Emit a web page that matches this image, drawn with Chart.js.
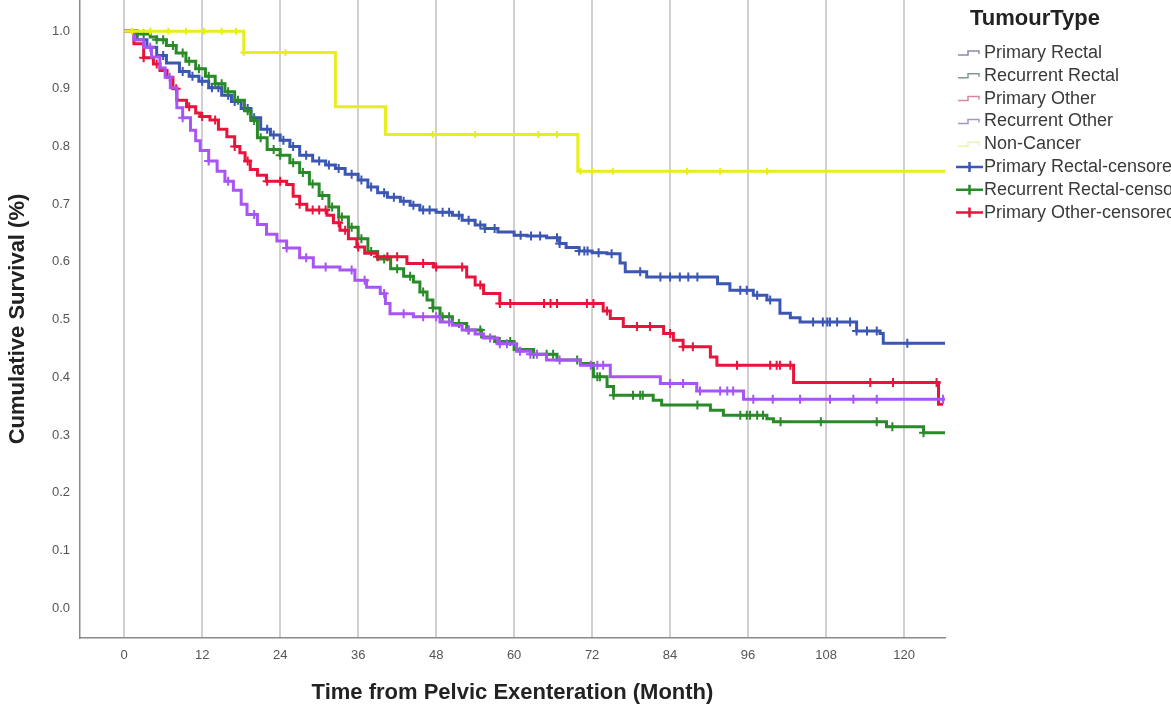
<!DOCTYPE html>
<html>
<head>
<meta charset="utf-8">
<script src="https://cdn.jsdelivr.net/npm/chart.js@4.4.1/dist/chart.umd.min.js"></script>
<style>
html, body { margin: 0; padding: 0; background: #fff; }
</style>
</head>
<body>
<canvas id="kmChart" width="1171" height="710"></canvas>
<script>
// Kaplan-Meier curves: event times (months) and survival after each step
const primaryRectalT = [0, 2, 3.5, 5, 6.5, 8.5, 10, 11.5, 13, 15, 16.5, 18, 19.5, 21, 22.5, 24, 25.5, 27, 29, 31, 32.5, 34, 36, 37.5, 39, 40.5, 42.5, 44, 45.5, 48, 50.5, 52, 54, 55.5, 57.5, 60, 62, 65, 67, 68, 70, 72, 74.3, 76.3, 77.1, 80.4, 91.3, 93.2, 96.8, 98.9, 100.9, 102.5, 104, 112.7, 116.3, 116.8, 126.3];
const primaryRectalS = [1.0, 0.985, 0.972, 0.958, 0.945, 0.93, 0.922, 0.913, 0.902, 0.889, 0.878, 0.866, 0.85, 0.83, 0.82, 0.811, 0.8, 0.785, 0.775, 0.768, 0.762, 0.752, 0.742, 0.73, 0.72, 0.712, 0.705, 0.698, 0.69, 0.686, 0.681, 0.672, 0.664, 0.658, 0.652, 0.646, 0.645, 0.642, 0.632, 0.625, 0.619, 0.616, 0.614, 0.598, 0.583, 0.574, 0.562, 0.551, 0.542, 0.534, 0.511, 0.503, 0.496, 0.48, 0.476, 0.459, 0.459];

const recurrentRectalT = [0, 2, 4, 5, 6.5, 8, 9.5, 11, 12.5, 14, 15.5, 17, 18.5, 19.5, 20.5, 22, 24, 25.5, 27, 28.5, 30, 31.5, 33, 34.5, 36, 37.5, 39, 41, 43, 44.5, 45.5, 46.6, 47.5, 48.6, 50.5, 52.7, 55, 57, 60, 63, 66.6, 70.2, 72.2, 74.3, 75.3, 81.4, 82.7, 90.2, 92.2, 98.9, 99.9, 117.3, 123, 126.3];
const recurrentRectalS = [1.0, 0.995, 0.99, 0.985, 0.975, 0.962, 0.948, 0.935, 0.922, 0.909, 0.895, 0.88, 0.862, 0.845, 0.815, 0.795, 0.785, 0.772, 0.755, 0.735, 0.715, 0.695, 0.678, 0.66, 0.64, 0.618, 0.605, 0.588, 0.575, 0.565, 0.548, 0.534, 0.52, 0.505, 0.493, 0.482, 0.47, 0.462, 0.448, 0.44, 0.43, 0.424, 0.401, 0.384, 0.369, 0.36, 0.352, 0.343, 0.334, 0.328, 0.323, 0.314, 0.304, 0.304];

const primaryOtherT = [0, 1.5, 3, 4.5, 5.5, 6.6, 7.5, 8.1, 9.6, 11, 11.7, 13.2, 14.5, 15.8, 17, 17.8, 18.6, 19.4, 20.5, 21.9, 25, 26, 27, 28.1, 31.2, 32.2, 33.2, 34.5, 35.8, 37, 38.9, 43.5, 47.6, 52.7, 54, 55.3, 57.8, 73.7, 74.8, 76.8, 83, 84.5, 86, 90.2, 91.2, 103, 125.3, 126];
const primaryOtherS = [1.0, 0.978, 0.954, 0.943, 0.932, 0.92, 0.9, 0.88, 0.869, 0.858, 0.852, 0.846, 0.83, 0.817, 0.8, 0.789, 0.775, 0.76, 0.75, 0.74, 0.734, 0.714, 0.7, 0.69, 0.681, 0.668, 0.655, 0.64, 0.626, 0.615, 0.609, 0.597, 0.591, 0.574, 0.56, 0.545, 0.528, 0.515, 0.502, 0.488, 0.476, 0.464, 0.453, 0.435, 0.421, 0.391, 0.353, 0.353];

const recurrentOtherT = [0, 1.5, 3, 4.2, 5.5, 6.3, 7.1, 8.1, 9, 10.2, 11, 11.7, 13, 14.3, 15.5, 16.8, 18, 18.9, 20.5, 21.9, 23.5, 25, 27, 29.1, 33.2, 35.5, 37.3, 39.4, 40.2, 40.9, 44.5, 48.6, 50.5, 52, 54, 55.3, 57.5, 60.4, 62.5, 65, 70.2, 74.8, 82.5, 88.1, 95.3, 126.3];
const recurrentOtherS = [1.0, 0.985, 0.972, 0.955, 0.936, 0.92, 0.902, 0.867, 0.85, 0.828, 0.81, 0.793, 0.775, 0.757, 0.74, 0.724, 0.7, 0.682, 0.665, 0.648, 0.636, 0.624, 0.607, 0.591, 0.586, 0.568, 0.556, 0.545, 0.528, 0.51, 0.505, 0.496, 0.49, 0.482, 0.475, 0.468, 0.458, 0.445, 0.44, 0.43, 0.421, 0.401, 0.389, 0.376, 0.362, 0.362];

const nonCancerT = [0, 18.4, 32.5, 40.2, 69.8, 126.3];
const nonCancerS = [1.0, 0.963, 0.869, 0.821, 0.757, 0.757];

// censored follow-up times (months)
const primaryRectalCens = [6, 9, 10.5, 12, 13.5, 14.5, 16, 17, 19, 20, 22, 23, 24.5, 26, 28, 30, 31.5, 33, 35, 36.5, 38, 40, 41.5, 43, 44.5, 46, 47, 49, 50, 51.5, 53, 54.8, 55.5, 57, 61, 62.6, 64, 66.6, 67, 70, 70.8, 71.3, 73, 75, 79.4, 82.5, 84, 85.5, 86.8, 88.2, 94.8, 95.8, 97.4, 99.4, 106, 107.5, 108.2, 108.6, 109.7, 111.7, 112.7, 114.3, 115.8, 120.5];
const recurrentRectalCens = [2, 3, 5, 6, 7.5, 9, 10, 11.5, 13, 14, 15, 16, 17.5, 19, 20, 21, 23, 24, 26, 27.5, 29, 30.5, 32, 33.5, 35, 36.5, 38, 40, 42, 44, 46, 47.5, 49, 50, 51.5, 53, 54.8, 57.8, 59.4, 63, 65, 66, 69.7, 72.8, 73.2, 75.3, 78.3, 79.4, 79.8, 88.2, 94.8, 95.8, 96.3, 97.4, 98.3, 101, 107.2, 115.8, 118.2, 123];
const primaryOtherCens = [3, 5, 8, 10, 12, 14, 17, 19, 22, 24, 27, 29, 30, 31, 33, 34, 36, 39, 40.5, 42, 46, 48, 52, 54.8, 57.8, 59.4, 64.6, 65.6, 66.6, 71.2, 72.2, 74.3, 78.9, 80.9, 84, 86, 87.5, 94.3, 99.4, 100.4, 100.9, 102.5, 114.8, 118.3, 125];
const recurrentOtherCens = [4, 7, 9, 13, 16, 20, 25, 28, 31, 35, 37, 40, 43, 46, 48, 50, 53, 56.3, 57.8, 58.9, 60.9, 62.5, 63.5, 67, 71.8, 72.8, 73.7, 84, 86, 88.6, 91.7, 92.8, 93.7, 96.8, 99.8, 104, 108.6, 112.2, 115.8, 126];
const nonCancerCens = [1.2, 4, 6.8, 9.5, 12.3, 15, 17.2, 18.4, 24.8, 47.5, 54, 63.7, 66.6, 70.2, 72, 75.2, 86.6, 91.7, 98.9];

const xTicks = [0, 12, 24, 36, 48, 60, 72, 84, 96, 108, 120];
const yTicks = [0, 0.1, 0.2, 0.3, 0.4, 0.5, 0.6, 0.7, 0.8, 0.9, 1.0];

const legendTitle = "TumourType";
const legendLabels = [
  "Primary Rectal",
  "Recurrent Rectal",
  "Primary Other",
  "Recurrent Other",
  "Non-Cancer",
  "Primary Rectal-censored",
  "Recurrent Rectal-censored",
  "Primary Other-censored"
];

const BLUE = "#3b56b3";
const GREEN = "#2a8a2a";
const RED = "#e8143c";
const PURPLE = "#a855f5";
const YELLOW = "#e6ef1c";

function curve(t, s) {
  return t.map((v, i) => ({ x: v, y: s[i] }));
}

// survival at time t taken from the step curve
function censMarks(cens, t, s) {
  return cens.map(c => {
    let k = 0;
    for (let i = 0; i < t.length; i++) {
      if (t[i] <= c) k = i;
    }
    return { x: c, y: s[k] };
  });
}

function lineSet(label, t, s, color) {
  return {
    label: label,
    data: curve(t, s),
    showLine: true,
    stepped: true,
    borderColor: color,
    backgroundColor: color,
    borderWidth: 3,
    pointRadius: 0,
    fill: false
  };
}

function censSet(label, cens, t, s, color, r) {
  return {
    label: label,
    data: censMarks(cens, t, s),
    showLine: false,
    pointStyle: "cross",
    pointRadius: r,
    pointBorderWidth: 2,
    borderColor: color,
    backgroundColor: color
  };
}

const legendPlugin = {
  id: "kmLegend",
  afterDraw(chart) {
    const ctx = chart.ctx;
    ctx.save();
    ctx.textBaseline = "middle";
    ctx.fillStyle = "#222";
    ctx.font = "bold 22px 'Liberation Sans', Arial, sans-serif";
    ctx.fillText(legendTitle, 970, 19);

    const stepColors = ["#8d8aa6", "#7f9a94", "#d9879c", "#a795c0", "#f0f2b0"];
    const crossColors = [BLUE, GREEN, RED];
    ctx.font = "18px 'Liberation Sans', Arial, sans-serif";
    legendLabels.forEach((label, i) => {
      const y = 53 + i * 22.8;
      ctx.lineWidth = 1.5;
      if (i < 5) {
        ctx.strokeStyle = stepColors[i];
        ctx.beginPath();
        ctx.moveTo(958, y + 2);
        ctx.lineTo(968, y + 2);
        ctx.lineTo(968, y - 2);
        ctx.lineTo(979, y - 2);
        ctx.lineTo(979, y + 1);
        ctx.stroke();
      } else {
        ctx.strokeStyle = crossColors[i - 5];
        ctx.lineWidth = 2.5;
        ctx.beginPath();
        ctx.moveTo(956, y);
        ctx.lineTo(983, y);
        ctx.moveTo(969.5, y - 5);
        ctx.lineTo(969.5, y + 5);
        ctx.stroke();
      }
      ctx.fillStyle = "#3a3a3a";
      ctx.fillText(label, 984, y);
    });
    ctx.restore();
  }
};

new Chart(document.getElementById("kmChart"), {
  type: "scatter",
  data: {
    datasets: [
      censSet("Non-Cancer-censored", nonCancerCens, nonCancerT, nonCancerS, YELLOW, 3.5),
      lineSet("Non-Cancer", nonCancerT, nonCancerS, YELLOW),
      censSet("Recurrent Other-censored", recurrentOtherCens, recurrentOtherT, recurrentOtherS, PURPLE, 4.5),
      lineSet("Recurrent Other", recurrentOtherT, recurrentOtherS, PURPLE),
      censSet("Primary Other-censored", primaryOtherCens, primaryOtherT, primaryOtherS, RED, 4.5),
      lineSet("Primary Other", primaryOtherT, primaryOtherS, RED),
      censSet("Recurrent Rectal-censored", recurrentRectalCens, recurrentRectalT, recurrentRectalS, GREEN, 4.5),
      lineSet("Recurrent Rectal", recurrentRectalT, recurrentRectalS, GREEN),
      censSet("Primary Rectal-censored", primaryRectalCens, primaryRectalT, primaryRectalS, BLUE, 4.5),
      lineSet("Primary Rectal", primaryRectalT, primaryRectalS, BLUE)
    ]
  },
  options: {
    responsive: false,
    animation: false,
    layout: { autoPadding: false, padding: { left: 0, right: 226, top: 0, bottom: 0 } },
    plugins: {
      legend: { display: false },
      tooltip: { enabled: false }
    },
    scales: {
      x: {
        type: "linear",
        min: -6.8,
        max: 126.3,
        afterBuildTicks(scale) {
          scale.ticks = xTicks.map(v => ({ value: v }));
        },
        afterFit(scale) {
          scale.height = 72;
          scale.paddingLeft = 0;
          scale.paddingRight = 0;
        },
        grid: {
          color: "#d0d0d0",
          lineWidth: 2,
          drawTicks: false
        },
        border: { color: "#8a8a8a", width: 1.5 },
        ticks: {
          padding: 10,
          color: "#555",
          font: { family: "'Liberation Sans', Arial, sans-serif", size: 13 }
        },
        title: {
          display: true,
          text: "Time from Pelvic Exenteration (Month)",
          color: "#222",
          padding: { top: 0, bottom: 4 },
          font: { family: "'Liberation Sans', Arial, sans-serif", size: 22, weight: "bold" }
        }
      },
      y: {
        type: "linear",
        min: -0.052,
        max: 1.054,
        afterBuildTicks(scale) {
          scale.ticks = yTicks.map(v => ({ value: v }));
        },
        afterFit(scale) {
          scale.width = 80;
          scale.paddingTop = 0;
          scale.paddingBottom = 0;
        },
        grid: { display: false, drawTicks: false },
        border: { color: "#8a8a8a", width: 1.5 },
        ticks: {
          padding: 10,
          color: "#555",
          font: { family: "'Liberation Sans', Arial, sans-serif", size: 13 },
          callback: v => v.toFixed(1)
        },
        title: {
          display: true,
          text: "Cumulative Survival (%)",
          color: "#222",
          padding: { top: 5, bottom: 0 },
          font: { family: "'Liberation Sans', Arial, sans-serif", size: 22, weight: "bold" }
        }
      }
    }
  },
  plugins: [legendPlugin]
});
</script>
</body>
</html>
